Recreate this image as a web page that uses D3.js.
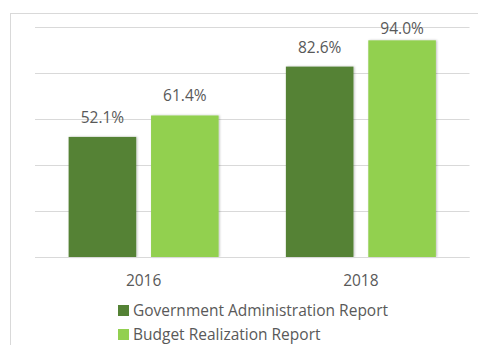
<!DOCTYPE html>
<html>
<head>
    <meta charset="utf-8" />
    <style>
        body { margin: 0; background-color: white; }
        text { font-family: "Open Sans", sans-serif; fill: #595959; }
    </style>
    <script src="https://d3js.org/d3.v7.min.js"></script>
</head>
<body>
    <script>
        var years = ["2016", "2018"];
        var seriesNames = ["Government Administration Report", "Budget Realization Report"];
        var seriesColors = ["#548235", "#92d050"];
        var govValues = [52.1, 82.6];
        var budgetValues = [61.4, 94.0];
        var gridTicks = [0, 20, 40, 60, 80, 100];

        var width = 478, height = 345;
        var plot = { left: 35, right: 469.5, top: 26.5, bottom: 257 };
        var fontSize = 15.5;

        var svg = d3.select("body").append("svg")
            .attr("width", width)
            .attr("height", height);

        var defs = svg.append("defs");
        var shadow = defs.append("filter").attr("id", "shadow")
            .attr("x", "-10%").attr("y", "-10%").attr("width", "130%").attr("height", "120%");
        shadow.append("feDropShadow")
            .attr("dx", 1).attr("dy", 0).attr("stdDeviation", 1.2)
            .attr("flood-color", "#000").attr("flood-opacity", 0.25);

        // chart frame
        svg.append("rect")
            .attr("x", 10.5).attr("y", 13.5)
            .attr("width", 480).attr("height", 340)
            .attr("fill", "none").attr("stroke", "#d9d9d9");

        var x0 = d3.scaleBand().domain(years).range([plot.left, plot.right]).paddingInner(0).paddingOuter(0);
        var x1 = d3.scaleBand().domain([0, 1]).range([0, 150]).paddingInner(0.18);
        var y = d3.scaleLinear().domain([0, 100]).range([plot.bottom, plot.top]);

        svg.append("g").selectAll("line")
            .data(gridTicks)
            .enter().append("line")
            .attr("x1", plot.left).attr("x2", plot.right)
            .attr("y1", function (d) { return Math.round(y(d)) + 0.5; })
            .attr("y2", function (d) { return Math.round(y(d)) + 0.5; })
            .attr("stroke", "#d9d9d9")
            .attr("stroke-width", 1);

        var rows = years.map(function (yr, i) {
            return { year: yr, values: [govValues[i], budgetValues[i]] };
        });

        var groups = svg.append("g").selectAll("g")
            .data(rows)
            .enter().append("g")
            .attr("transform", function (d) {
                return "translate(" + (x0(d.year) + x0.bandwidth() / 2 - 75) + ",0)";
            });

        groups.selectAll("rect")
            .data(function (d) { return d.values; })
            .enter().append("rect")
            .attr("x", function (d, i) { return x1(i); })
            .attr("width", x1.bandwidth())
            .attr("y", function (d) { return y(d); })
            .attr("height", function (d) { return plot.bottom - y(d); })
            .attr("fill", function (d, i) { return seriesColors[i]; })
            .attr("filter", "url(#shadow)");

        groups.selectAll("text")
            .data(function (d) { return d.values; })
            .enter().append("text")
            .attr("x", function (d, i) { return x1(i) + x1.bandwidth() / 2; })
            .attr("y", function (d) { return Math.max(y(d) - 14, plot.top + 7); })
            .attr("text-anchor", "middle")
            .attr("font-size", fontSize)
            .text(function (d) { return d.toFixed(1) + "%"; });

        // baseline redrawn over bars
        svg.append("line")
            .attr("x1", plot.left).attr("x2", plot.right)
            .attr("y1", plot.bottom + 0.5).attr("y2", plot.bottom + 0.5)
            .attr("stroke", "#d9d9d9");

        svg.append("g").selectAll("text")
            .data(years)
            .enter().append("text")
            .attr("x", function (d) { return x0(d) + x0.bandwidth() / 2; })
            .attr("y", 286)
            .attr("text-anchor", "middle")
            .attr("font-size", fontSize)
            .text(function (d) { return d; });

        var legend = svg.append("g").selectAll("g")
            .data(seriesNames)
            .enter().append("g")
            .attr("transform", function (d, i) { return "translate(118," + (305 + i * 24) + ")"; });
        legend.append("rect")
            .attr("width", 11).attr("height", 11)
            .attr("fill", function (d, i) { return seriesColors[i]; });
        legend.append("text")
            .attr("x", 15).attr("y", 11)
            .attr("font-size", fontSize)
            .text(function (d) { return d; });
    </script>
</body>
</html>
